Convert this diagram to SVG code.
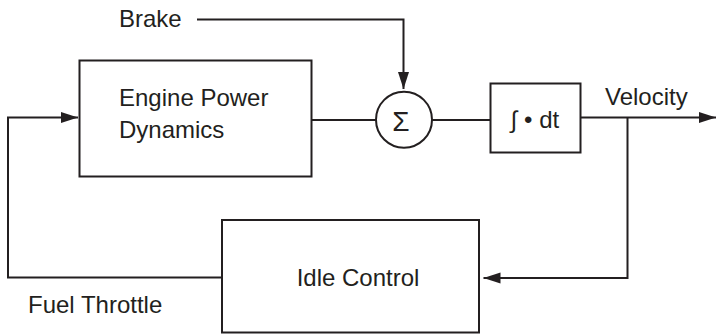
<svg xmlns="http://www.w3.org/2000/svg" width="716" height="334" viewBox="0 0 716 334">
<style>
  .box { fill: none; stroke: #231f20; stroke-width: 2; }
  .wire { fill: none; stroke: #231f20; stroke-width: 2; }
  .lbl { font-family: "Liberation Sans", Arial, sans-serif; font-size: 24px; fill: #231f20; }
</style>
<defs>
  <marker id="arr" markerUnits="userSpaceOnUse" markerWidth="18" markerHeight="12" refX="17" refY="5.5" orient="auto">
    <path d="M0,0 L17,5.5 L0,11 Z" fill="#231f20"/>
  </marker>
</defs>
<rect width="716" height="334" fill="#ffffff"/>
<g id="connectors">
  <path class="wire" d="M197,19.5 H403.5 V89" marker-end="url(#arr)"/>
  <path class="wire" d="M312,120 H376"/>
  <path class="wire" d="M432,120 H490"/>
  <path class="wire" d="M581,117.5 H716" marker-end="url(#arr)"/>
  <path class="wire" d="M627.5,117.5 V278 H483.5" marker-end="url(#arr)"/>
  <path class="wire" d="M222,277.5 H8 V117.5 H78" marker-end="url(#arr)"/>
</g>
<g id="brake-label"><text class="lbl" x="119" y="27">Brake</text></g>
<g id="engine">
  <rect class="box" x="79.5" y="60.5" width="232" height="116"/>
  <text class="lbl" x="119" y="106">Engine Power</text>
  <text class="lbl" x="119" y="138">Dynamics</text>
</g>
<g id="sum">
  <circle class="box" cx="404" cy="119.7" r="28"/>
  <text class="lbl" x="401" y="130.5" text-anchor="middle" style="font-size:28px">Σ</text>
</g>
<g id="integrator">
  <rect class="box" x="490.5" y="83.5" width="90" height="69"/>
  <text class="lbl" x="535" y="128" text-anchor="middle">∫ • dt</text>
</g>
<g id="velocity-label"><text class="lbl" x="605" y="105">Velocity</text></g>
<g id="idle">
  <rect class="box" x="222" y="220" width="257" height="112.5"/>
  <text class="lbl" x="358" y="286" text-anchor="middle">Idle Control</text>
</g>
<g id="fuel-label"><text class="lbl" x="28" y="313">Fuel Throttle</text></g>
</svg>
